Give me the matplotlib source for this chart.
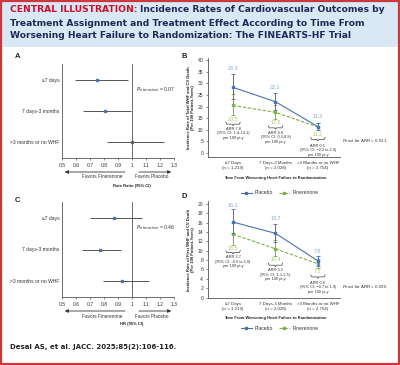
import matplotlib
matplotlib.use("Agg")
import matplotlib.pyplot as plt
from matplotlib.patches import Rectangle, FancyArrowPatch
import numpy as np

W, H = 400, 365
plt.rcParams['font.family'] = ['Liberation Sans', 'DejaVu Sans']

# ---------------- data ----------------
forest_rows = ["\u22647 days", "7 days-3 months", ">3 months or no WHF"]
a_est = [0.75, 0.81, 1.00]
a_lo = [0.59, 0.65, 0.82]
a_hi = [0.97, 0.99, 1.23]
a_p = "0.07"
c_est = [0.87, 0.77, 0.93]
c_lo = [0.70, 0.64, 0.79]
c_hi = [1.07, 0.92, 1.12]
c_p = "0.46"
forest_ticks = [0.5, 0.6, 0.7, 0.8, 0.9, 1, 1.1, 1.2, 1.3]
forest_ticklabels = ["0.5", "0.6", "0.7", "0.8", "0.9", "1", "1.1", "1.2", "1.3"]

groups = ["\u22647 Days\n(n = 1,219)", "7 Days-3 Months\n(n = 2,028)", ">3 Months or no WHF\n(n = 2,754)"]
b_placebo = [28.3, 22.1, 11.3]
b_placebo_lo = [23.2, 18.6, 9.9]
b_placebo_hi = [34.0, 25.8, 12.9]
b_fin = [20.5, 17.5, 11.2]
b_fin_lo = [16.4, 14.6, 9.7]
b_fin_hi = [25.3, 20.7, 12.8]
b_arr = ["ARR 7.8\n(95% CI: 1.4-14.1)\nper 100 pt-y",
         "ARR 4.6\n(95% CI: 0.3-8.8)\nper 100 pt-y",
         "ARR 0.1\n(95% CI: \u22122.2 to 2.4)\nper 100 pt-y"]
b_p = "0.011"
d_placebo = [16.1, 13.7, 7.8]
d_placebo_lo = [13.7, 11.9, 6.8]
d_placebo_hi = [18.8, 15.6, 8.9]
d_fin = [13.5, 10.4, 7.2]
d_fin_lo = [11.3, 8.8, 6.3]
d_fin_hi = [15.9, 12.2, 8.2]
d_arr = ["ARR 2.7\n(95% CI: -0.6 to 5.9)\nper 100 pt-y",
         "ARR 3.3\n(95% CI: 1.1-5.5)\nper 100 pt-y",
         "ARR 0.6\n(95% CI: \u22120.7 to 1.9)\nper 100 pt-y"]
d_p = "0.096"

# ---------------- styles ----------------
NAVY = "#1d2b57"
RED = "#c8102e"
BORDER = "#c9383a"
HEADER = "#dae7f4"
BLUE = "#4a72ad"
BLUE_L = "#86a7d0"
GREEN = "#7bb241"
GREEN_L = "#a9c86e"
GRAY = "#555555"
TXT = "#333333"

fig = plt.figure(figsize=(4.0, 3.65), dpi=100)
fig.patch.set_facecolor("white")
renderer = fig.canvas.get_renderer()


def rect(x0, y0, x1, y1):
    return [x0 / W, 1 - y1 / H, (x1 - x0) / W, (y1 - y0) / H]


def fx(x):
    return x / W


def fy(y):
    return 1 - y / H


def text_width(t):
    return t.get_window_extent(renderer=renderer).width


def fit_text(t, width_px):
    t.set_fontsize(t.get_fontsize() * width_px / text_width(t))


# header band and border
fig.patches.append(Rectangle((0, fy(47)), 1, 47 / H, transform=fig.transFigure,
                             facecolor=HEADER, edgecolor="none", zorder=0))
fig.patches.append(Rectangle((0.003, 0.004), 0.994, 0.992, transform=fig.transFigure,
                             facecolor="none", edgecolor=BORDER, lw=1.6, zorder=10))

tfam = "DejaVu Sans"
tsize = 7.0
t1 = fig.text(fx(10), fy(10), "CENTRAL ILLUSTRATION:", color=RED, fontsize=tsize,
              fontweight="bold", family=tfam, va="center", ha="left")
t1b = fig.text(fx(10), fy(10), "Incidence Rates of Cardiovascular Outcomes by",
               color=NAVY, fontsize=tsize, fontweight="bold", family=tfam,
               va="center", ha="left")
gap = 3
total = text_width(t1) + gap + text_width(t1b)
scale = 376 / total
tsize = tsize * scale
t1.set_fontsize(tsize)
t1b.set_fontsize(tsize)
t1b.set_x((10 + text_width(t1) + gap * scale) / W)
fig.text(fx(10), fy(23), "Treatment Assignment and Treatment Effect According to Time From",
         color=NAVY, fontsize=tsize, fontweight="bold", family=tfam,
         va="center", ha="left")
fig.text(fx(10), fy(36), "Worsening Heart Failure to Randomization: The FINEARTS-HF Trial",
         color=NAVY, fontsize=tsize, fontweight="bold", family=tfam,
         va="center", ha="left")

tf = fig.text(fx(10), fy(347), "Desai AS, et al. JACC. 2025;85(2):106-116.", color="#222222",
              fontsize=6, fontweight="bold", family=tfam, va="center", ha="left")
fit_text(tf, 170)

FS = 3.6


def forest(box, label_xy, est, lo, hi, p, xlabel, xlabel_y):
    ax = fig.add_axes(rect(*box))
    ypos = [3, 2, 1]
    ax.hlines(ypos, lo, hi, color=GRAY, lw=0.7)
    ax.plot(est, ypos, 's', ms=1.6, color=BLUE, mec=BLUE)
    ax.axvline(1, color=GRAY, lw=0.6)
    ax.set_xlim(0.5, 1.3)
    ax.set_ylim(0.5, 3.5)
    ax.set_yticks(ypos)
    ax.set_yticklabels(forest_rows, fontsize=FS, color=TXT)
    ax.set_xticks(forest_ticks)
    ax.set_xticklabels(forest_ticklabels, fontsize=FS, color=TXT)
    ax.tick_params(axis='y', length=0, pad=2)
    ax.tick_params(axis='x', length=1.5, width=0.5, pad=2, color=GRAY)
    for s in ["top", "right"]:
        ax.spines[s].set_visible(False)
    for s in ["left", "bottom"]:
        ax.spines[s].set_color(GRAY)
        ax.spines[s].set_linewidth(0.6)
    ax.set_facecolor("none")
    ax.text(1.03, 2.69, r"$P_{\mathrm{interaction}}$ = " + p, fontsize=FS, color=TXT,
            ha="left", va="center")
    x0, x1 = box[0], box[2]

    def dx(v):
        return x0 + (v - 0.5) / 0.8 * (x1 - x0)
    ay = box[3] + 14
    fig.add_artist(FancyArrowPatch(
        (fx(dx(0.97)), fy(ay)), (fx(dx(0.5)), fy(ay)), transform=fig.transFigure,
        arrowstyle="-|>,head_length=2,head_width=1", color="#333333", lw=0.6))
    fig.add_artist(FancyArrowPatch(
        (fx(dx(1.03)), fy(ay)), (fx(dx(1.3)), fy(ay)), transform=fig.transFigure,
        arrowstyle="-|>,head_length=2,head_width=1", color="#333333", lw=0.6))
    fig.text(fx(dx(0.79)), fy(ay + 5), "Favors Finerenone", fontsize=FS - 0.2, color=TXT,
             ha="center", va="center")
    fig.text(fx(dx(1.14)), fy(ay + 5), "Favors Placebo", fontsize=FS - 0.2, color=TXT,
             ha="center", va="center")
    fig.text(fx(dx(1.0)), fy(xlabel_y), xlabel, fontsize=3.0, color="#222222",
             fontweight="bold", ha="center", va="center")
    fig.text(fx(label_xy[0]), fy(label_xy[1]), label_xy[2], fontsize=5.5,
             fontweight="bold", color="#222222", ha="left", va="center")
    return ax


forest((62, 64, 174, 158), (15, 57, "A"), a_est, a_lo, a_hi, a_p, "Rate Ratio (95% CI)", 186)
forest((62, 202, 174, 297), (15, 200, "C"), c_est, c_lo, c_hi, c_p, "HR (95% CI)", 324)


def brace(ax, xc, y, w=0.17, h=0.9):
    xs = [xc - w, xc - w + 0.02, xc - 0.02, xc, xc + 0.02, xc + w - 0.02, xc + w]
    ys = [y + h, y, y, y - h * 0.7, y, y, y + h]
    ax.plot(xs, ys, color="#444444", lw=0.5, clip_on=False)


def trend(box, label, ylim, yticks, pl, pl_lo, pl_hi, fi, fi_lo, fi_hi,
          pl_lab_y, fi_lab_y, brace_y, arr_y, arr, p, p_y, ylabel, xlab_y, leg_y, bh):
    ax = fig.add_axes(rect(*box))
    x = np.arange(3)
    ax.plot(x, pl, '-', color=BLUE, lw=0.8, marker='s', ms=1.6, zorder=3)
    ax.plot(x, fi, '--', color=GREEN, lw=0.8, marker='s', ms=1.6, zorder=2,
            dashes=(3, 1.5))
    ax.errorbar(x, pl, yerr=[np.array(pl) - pl_lo, np.array(pl_hi) - pl], fmt='none',
                ecolor=BLUE, elinewidth=0.7, capsize=1.2, capthick=0.6, zorder=3)
    ax.errorbar(x, fi, yerr=[np.array(fi) - fi_lo, np.array(fi_hi) - fi], fmt='none',
                ecolor=GREEN, elinewidth=0.7, capsize=1.2, capthick=0.6, zorder=2)
    for i in range(3):
        ax.text(x[i], pl_lab_y[i], f"{pl[i]}", fontsize=FS + 0.3, color=BLUE_L,
                ha="center", va="center")
        ax.text(x[i], fi_lab_y[i], f"{fi[i]}", fontsize=FS + 0.3, color=GREEN_L,
                ha="center", va="center")
        brace(ax, x[i], brace_y[i], h=bh)
        ax.text(x[i], arr_y[i], arr[i], fontsize=2.8, color=TXT, ha="center",
                va="top", linespacing=1.15, clip_on=False)
    ax.set_xlim(-0.59, 2.52)
    ax.set_ylim(*ylim)
    ax.set_yticks(yticks)
    ax.set_yticklabels([str(t) for t in yticks], fontsize=FS, color=TXT)
    ax.set_xticks(x)
    ax.set_xticklabels(groups, fontsize=3.2, color=TXT, linespacing=1.2)
    ax.tick_params(axis='y', length=1.5, width=0.5, pad=2, color=GRAY)
    ax.tick_params(axis='x', length=0, pad=3)
    for s in ["top", "right"]:
        ax.spines[s].set_visible(False)
    for s in ["left", "bottom"]:
        ax.spines[s].set_color(GRAY)
        ax.spines[s].set_linewidth(0.6)
    ax.set_facecolor("none")
    ax.set_ylabel(ylabel, fontsize=3.0, fontweight="bold", color="#222222",
                  linespacing=1.1, labelpad=1.5)
    fig.text(fx(342), fy(p_y), r"$P_{\mathrm{trend}}$ for ARR = " + p, fontsize=3.2,
             color=TXT, ha="left", va="center")
    fig.text(fx(275.5), fy(xlab_y), "Time From Worsening Heart Failure to Randomization",
             fontsize=2.9, fontweight="bold", color="#222222", ha="center", va="center")
    lax = fig.add_axes(rect(box[0] + 20, leg_y - 5, box[2], leg_y + 5))
    lax.axis("off")
    lax.plot([], [], '-', color=BLUE, lw=0.8, marker='s', ms=1.6, label="Placebo")
    lax.plot([], [], '--', color=GREEN, lw=0.8, marker='s', ms=1.6, label="Finerenone",
             dashes=(3, 1.5))
    lax.legend(loc="center", ncol=2, frameon=False, fontsize=FS,
               handlelength=2.2, columnspacing=1.2, handletextpad=0.5, labelcolor=TXT,
               bbox_to_anchor=(0.46, 0.5))
    fig.text(fx(181), fy(label[1]), label[0], fontsize=5.5, fontweight="bold",
             color="#222222", ha="left", va="center")
    return ax


trend((208, 58, 340, 157), ("B", 57), (-1.8, 41), list(range(0, 41, 5)),
      b_placebo, b_placebo_lo, b_placebo_hi, b_fin, b_fin_lo, b_fin_hi,
      [36.5, 28.4, 15.6], [14.6, 13.0, 8.0], [12.4, 10.8, 5.8],
      [11.3, 9.6, 3.9], b_arr, b_p, 141,
      "Incidence Rate of Total WHF and CV Death\n(Per 100 Patient-Years)", 178, 193, 0.9)

trend((208, 201, 340, 298), ("D", 197), (-0.1, 20.6), list(range(0, 21, 2)),
      d_placebo, d_placebo_lo, d_placebo_hi, d_fin, d_fin_lo, d_fin_hi,
      [19.6, 16.8, 9.9], [10.5, 8.2, 5.6], [9.6, 6.9, 4.4],
      [9.0, 6.2, 3.6], d_arr, d_p, 287,
      "Incidence Rate of First WHF and CV Death\n(Per 100 Patient-Years)", 318, 328, 0.45)

fig.savefig("out.png", dpi=100, facecolor="white")
